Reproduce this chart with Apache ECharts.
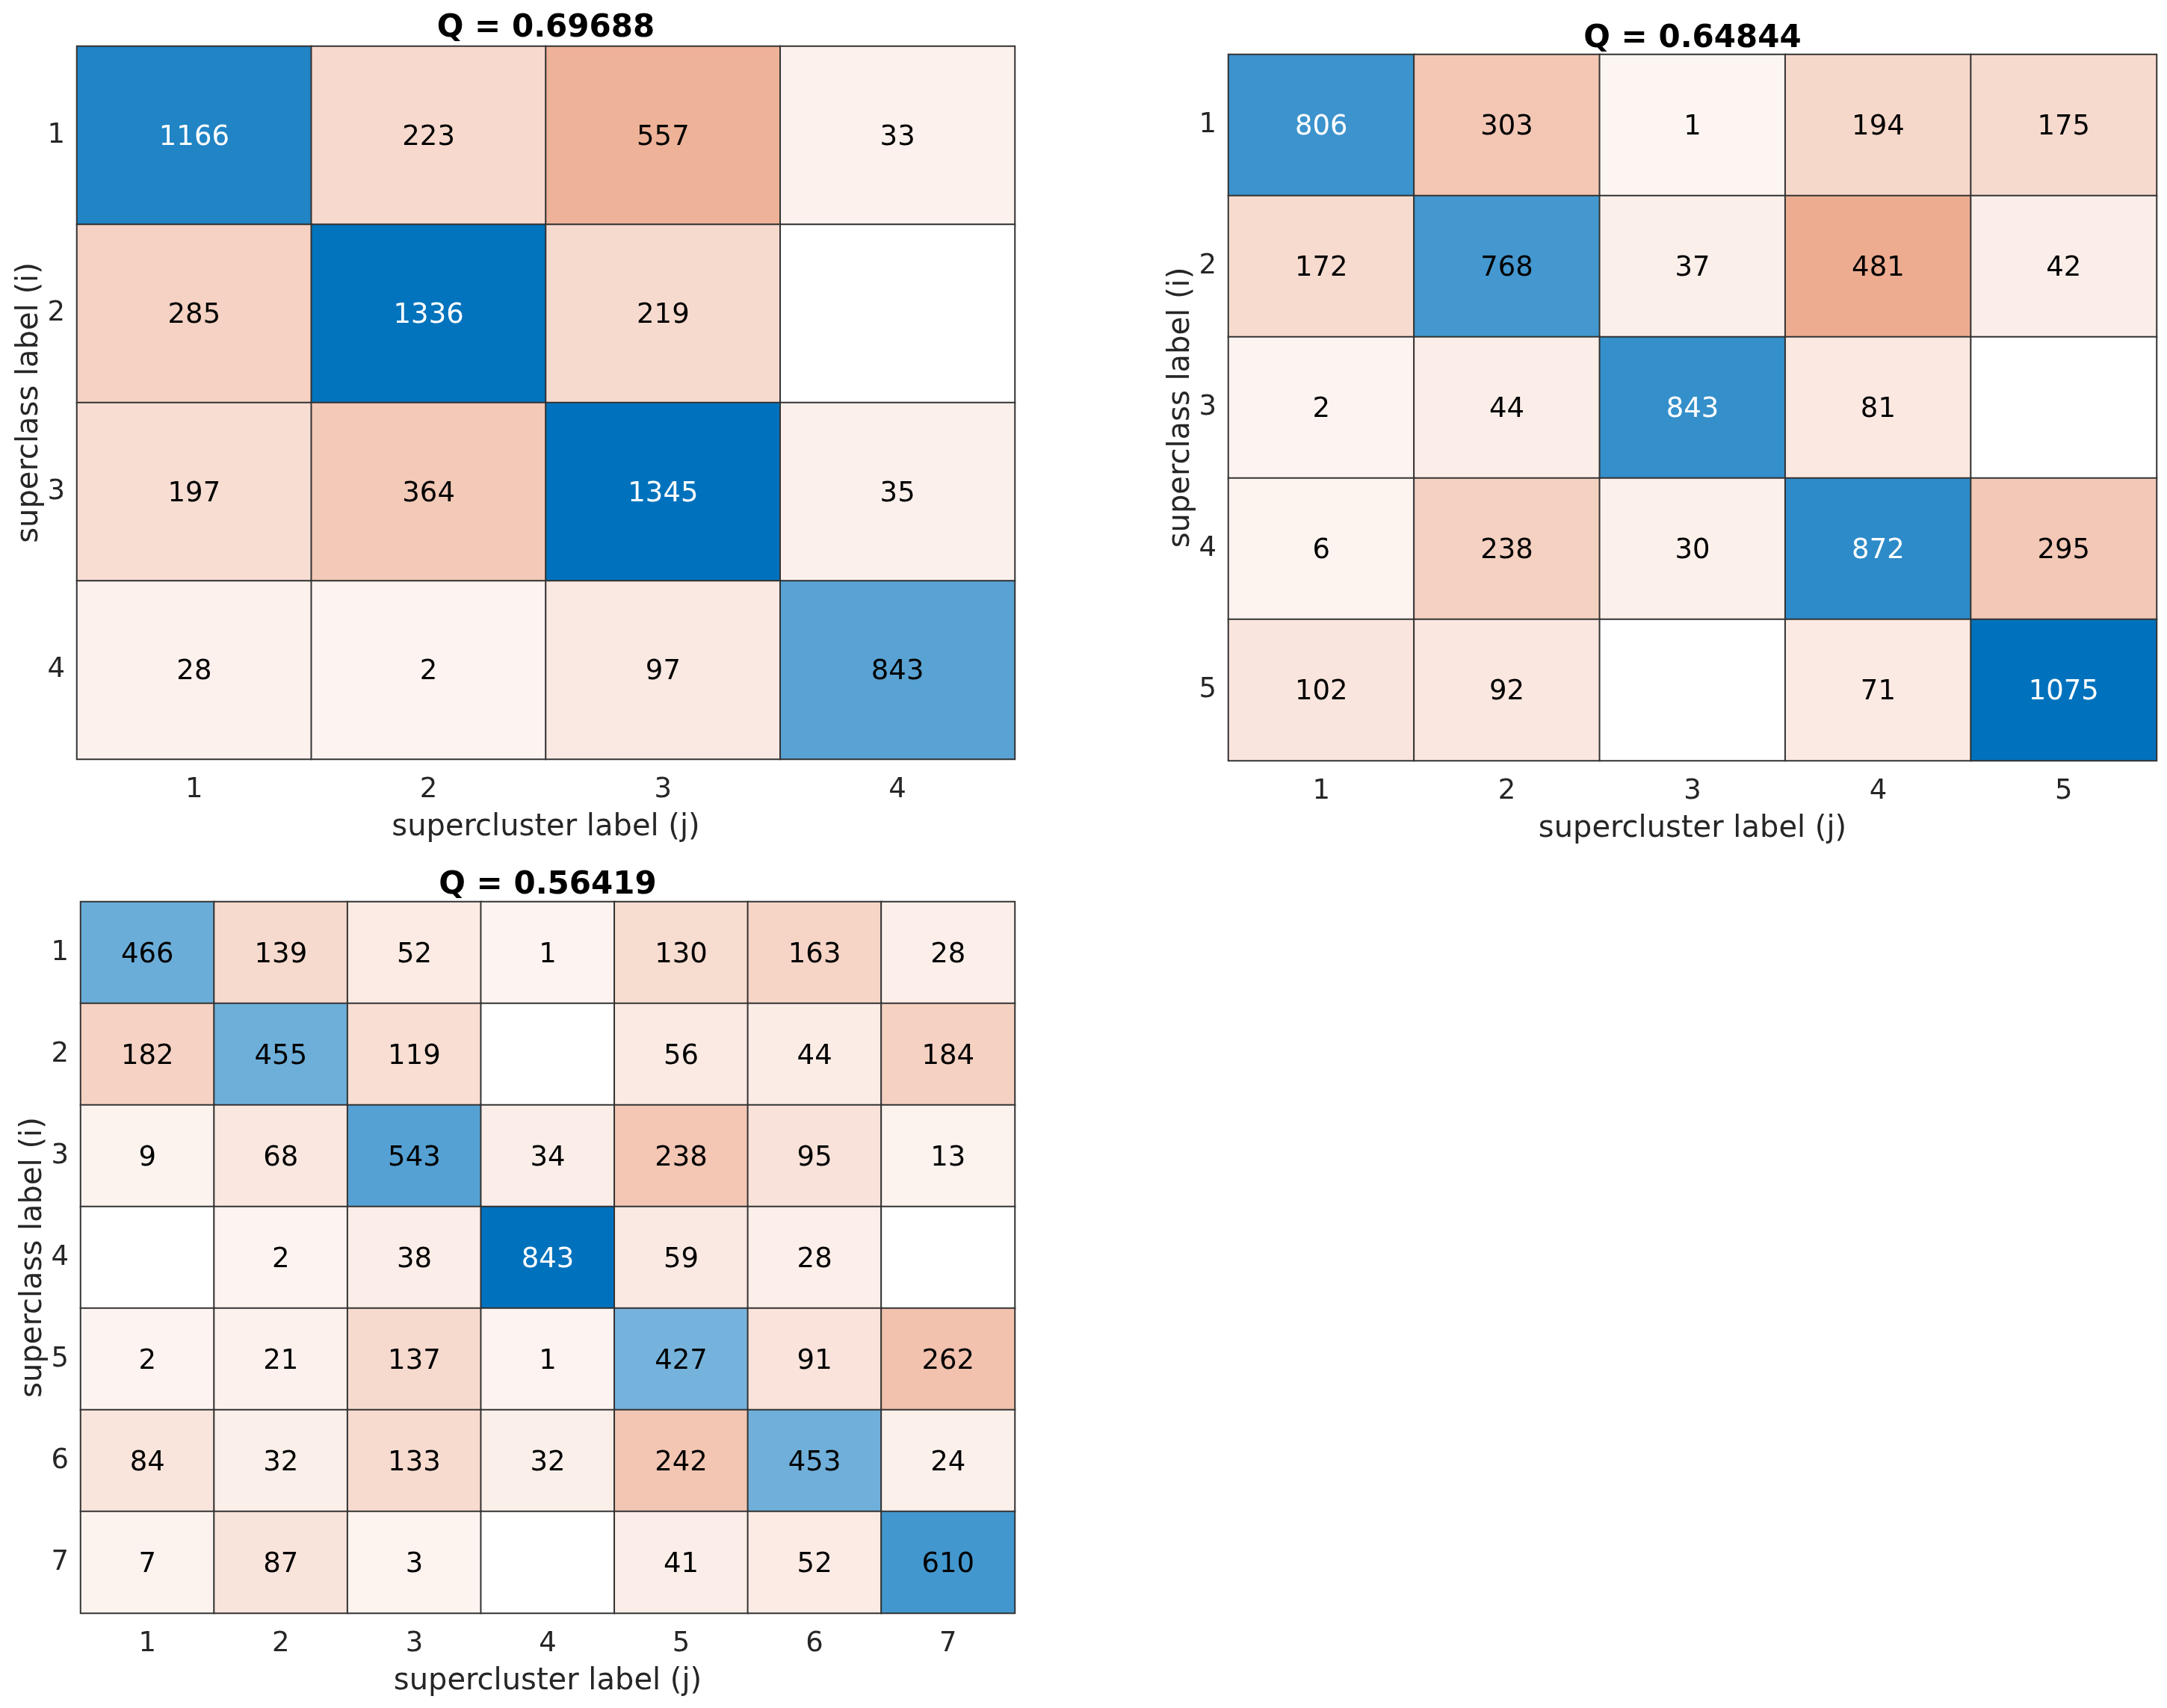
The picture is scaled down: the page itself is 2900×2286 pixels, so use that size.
<!DOCTYPE html>
<html>
<head>
<meta charset="utf-8">
<script src="https://cdn.jsdelivr.net/npm/echarts@6/dist/echarts.min.js"></script>
<style>
html,body{margin:0;padding:0;background:#fff;}
#chart{width:2900px;height:2286px;}
</style>
</head>
<body>
<div id="chart"></div>
<script>
// ---- data ----
var titles = ['Q = 0.69688', 'Q = 0.64844', 'Q = 0.56419'];
var ticks1 = ['1','2','3','4'];
var ticks2 = ['1','2','3','4','5'];
var ticks3 = ['1','2','3','4','5','6','7'];
var matrix1 = [
  [1166, 223, 557, 33],
  [285, 1336, 219, 0],
  [197, 364, 1345, 35],
  [28, 2, 97, 843]
];
var matrix2 = [
  [806, 303, 1, 194, 175],
  [172, 768, 37, 481, 42],
  [2, 44, 843, 81, 0],
  [6, 238, 30, 872, 295],
  [102, 92, 0, 71, 1075]
];
var matrix3 = [
  [466, 139, 52, 1, 130, 163, 28],
  [182, 455, 119, 0, 56, 44, 184],
  [9, 68, 543, 34, 238, 95, 13],
  [0, 2, 38, 843, 59, 28, 0],
  [2, 21, 137, 1, 427, 91, 262],
  [84, 32, 133, 32, 242, 453, 24],
  [7, 87, 3, 0, 41, 52, 610]
];
var xName = 'supercluster label (j)';
var yName = 'superclass label (i)';

// ---- styling ----
var FONT = 'DejaVu Sans';
var DIAG = [0, 114, 189];
var OFF = [217, 83, 25];
var TINT0 = 0.06;
function blend(c, t) {
  return 'rgb(' + Math.round(255 - (255 - c[0]) * t) + ',' +
    Math.round(255 - (255 - c[1]) * t) + ',' +
    Math.round(255 - (255 - c[2]) * t) + ')';
}
var panels = [
  {m: matrix1, t: ticks1, title: titles[0], grid: {left: 103, top: 62, width: 1255, height: 954}, titleY: 38},
  {m: matrix2, t: ticks2, title: titles[1], grid: {left: 1644, top: 73, width: 1242, height: 945}, titleY: 52},
  {m: matrix3, t: ticks3, title: titles[2], grid: {left: 108, top: 1207, width: 1250, height: 952}, titleY: 1185}
];

var option = {
  animation: false,
  backgroundColor: '#fff',
  textStyle: {fontFamily: FONT},
  title: [], grid: [], xAxis: [], yAxis: [], series: []
};

panels.forEach(function (p, k) {
  var maxV = 0;
  p.m.forEach(function (r) { r.forEach(function (v) { if (v > maxV) maxV = v; }); });
  option.title.push({
    text: p.title,
    left: p.grid.left + p.grid.width / 2,
    top: p.titleY - 22,
    textAlign: 'center',
    padding: 0,
    textStyle: {fontFamily: FONT, fontWeight: 'bold', fontSize: 42, color: '#000', lineHeight: 44}
  });
  option.grid.push({
    left: p.grid.left, top: p.grid.top, width: p.grid.width, height: p.grid.height,
    show: true, borderColor: '#333', borderWidth: 2, backgroundColor: '#fff', containLabel: false
  });
  option.xAxis.push({
    type: 'category', gridIndex: k, data: p.t,
    name: xName, nameLocation: 'middle', nameGap: 72,
    nameTextStyle: {fontFamily: FONT, fontSize: 40, color: '#262626'},
    axisLine: {show: false}, axisTick: {show: false}, splitLine: {show: false},
    axisLabel: {fontFamily: FONT, fontSize: 37, color: '#262626', margin: 23}
  });
  option.yAxis.push({
    type: 'category', gridIndex: k, data: p.t, inverse: true,
    name: yName, nameLocation: 'middle', nameGap: 41, nameRotate: 90,
    nameTextStyle: {fontFamily: FONT, fontSize: 40, color: '#262626'},
    axisLine: {show: false}, axisTick: {show: false}, splitLine: {show: false},
    axisLabel: {fontFamily: FONT, fontSize: 37, color: '#262626', margin: 16,
      verticalAlign: 'middle', lineHeight: 37, padding: [10, 0, 0, 0]}
  });
  var data = [];
  p.m.forEach(function (row, i) {
    row.forEach(function (v, j) {
      var t = v / maxV;
      var col = v === 0 ? '#ffffff' : blend(i === j ? DIAG : OFF, TINT0 + (1 - TINT0) * t);
      data.push({
        value: [j, i, v],
        itemStyle: {color: col},
        label: {color: (i === j && t > 0.74) ? '#ffffff' : '#000000'}
      });
    });
  });
  option.series.push({
    type: 'heatmap', xAxisIndex: k, yAxisIndex: k, data: data,
    itemStyle: {borderColor: '#333', borderWidth: 2},
    label: {
      show: true, fontFamily: FONT, fontSize: 37, offset: [0, 3],
      formatter: function (d) { return d.value[2] === 0 ? '' : String(d.value[2]); }
    },
    emphasis: {disabled: true}
  });
});

var chart = echarts.init(document.getElementById('chart'));
chart.setOption(option);
</script>
</body>
</html>
